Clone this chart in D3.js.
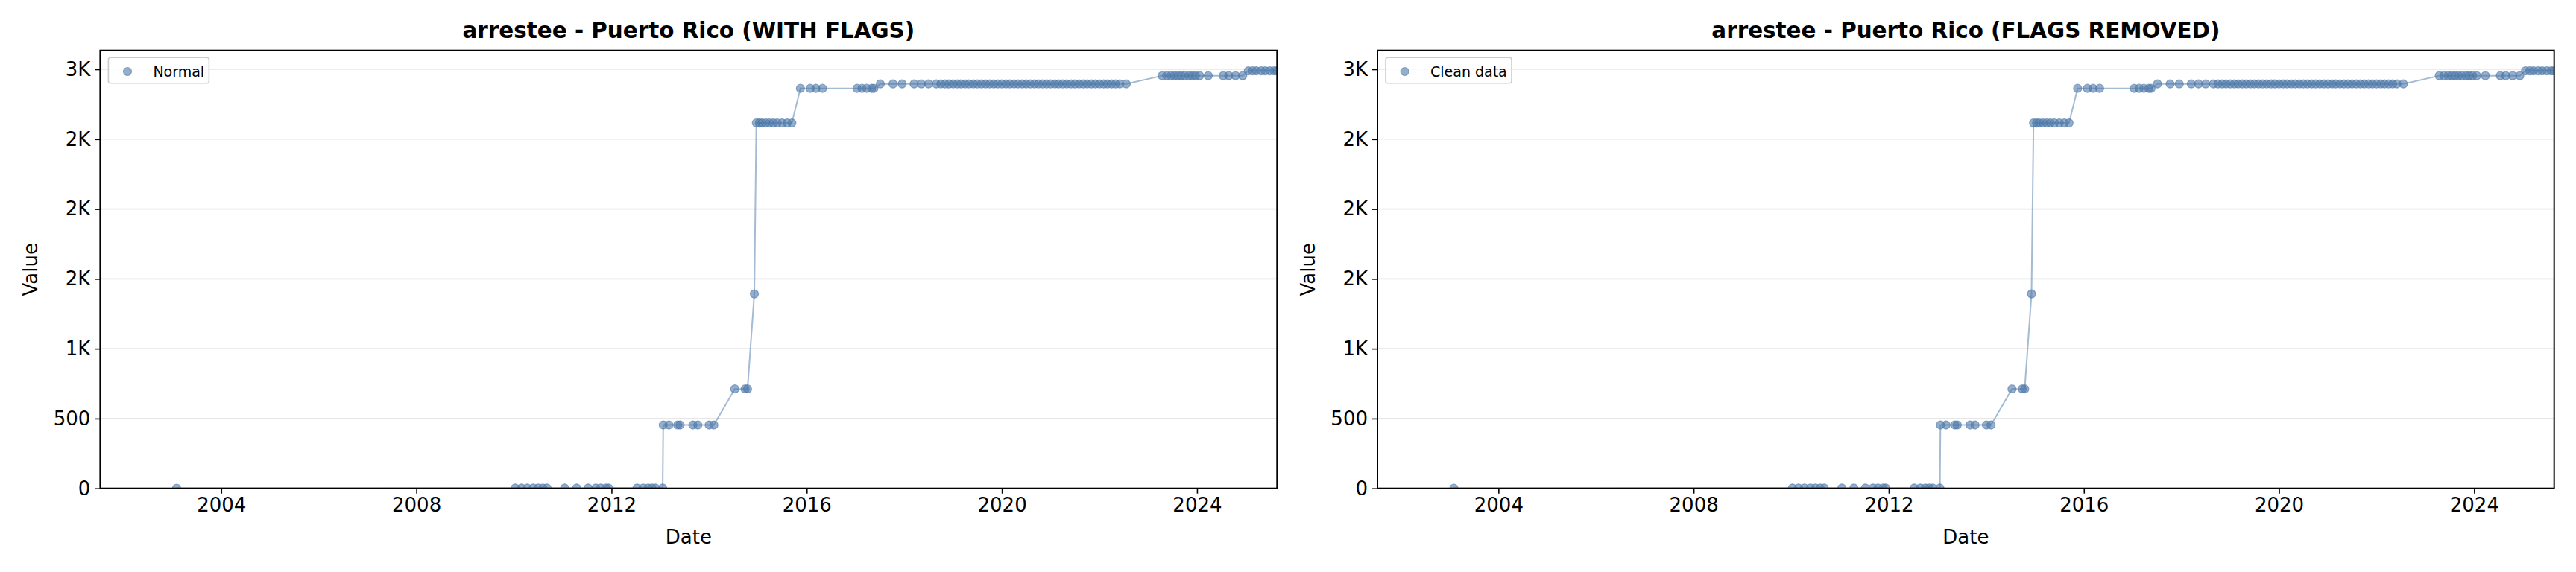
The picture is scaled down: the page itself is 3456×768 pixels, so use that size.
<!DOCTYPE html>
<html>
<head>
<meta charset="utf-8">
<script src="https://cdn.jsdelivr.net/npm/d3@7"></script>
<style>
  html, body { margin: 0; padding: 0; background: #fff; }
  svg { display: block; }
  text { font-family: "DejaVu Sans", sans-serif; fill: #000; }
</style>
</head>
<body>
<svg id="chart" width="3456" height="768"></svg>
<script>
// ---------------- data ----------------
const dates = [
  "2003-02-01",
  "2010-01-10","2010-02-25","2010-04-10","2010-05-25","2010-07-01","2010-08-05","2010-09-05",
  "2011-01-15","2011-04-15",
  "2011-07-10","2011-09-05","2011-10-12","2011-11-20","2011-12-10",
  "2012-07-10","2012-08-25","2012-10-01","2012-10-30","2012-11-25","2013-01-18",
  "2013-01-22","2013-03-05","2013-05-10","2013-05-28","2013-09-01","2013-10-08","2014-01-01","2014-02-05",
  "2014-07-12","2014-09-27","2014-10-15",
  "2014-12-05",
  "2014-12-20","2015-01-12","2015-02-01","2015-03-01","2015-03-28","2015-04-25","2015-05-25","2015-07-01","2015-08-08","2015-09-12",
  "2015-11-15","2016-01-27","2016-03-10","2016-04-28",
  "2017-01-12","2017-02-18","2017-03-25","2017-05-01","2017-05-18",
  "2017-07-05","2017-10-08","2017-12-15","2018-03-15","2018-05-08","2018-07-01","2018-08-28",
  "2018-10-01","2018-11-01","2018-12-01","2019-01-01","2019-02-01","2019-03-01","2019-04-01","2019-05-01",
  "2019-06-01","2019-07-01","2019-08-01","2019-09-01","2019-10-01","2019-11-01","2019-12-01",
  "2020-01-01","2020-02-01","2020-03-01","2020-04-01","2020-05-01","2020-06-01","2020-07-01","2020-08-01",
  "2020-09-01","2020-10-01","2020-11-01","2020-12-01","2021-01-01","2021-02-01","2021-03-01","2021-04-01",
  "2021-05-01","2021-06-01","2021-07-01","2021-08-01","2021-09-01","2021-10-01","2021-11-01","2021-12-01",
  "2022-01-01","2022-02-01","2022-03-01","2022-04-01","2022-05-01","2022-06-01","2022-07-20",
  "2023-04-15","2023-05-20","2023-06-20","2023-07-15","2023-08-10","2023-09-05","2023-10-01","2023-11-01",
  "2023-11-25","2023-12-20","2024-01-20","2024-03-25",
  "2024-07-15","2024-08-25","2024-10-15","2024-12-08",
  "2025-01-19","2025-02-20","2025-03-20","2025-04-25","2025-05-25","2025-06-28","2025-07-30","2025-08-22"
];
const values = [
  1,
  2,2,2,2,2,2,2,
  2,2,
  2,2,2,2,2,
  2,2,2,2,2,2,
  454,454,454,454,454,454,454,454,
  712,712,712,
  1392,
  2616,2616,2616,2616,2616,2616,2616,2616,2616,2616,
  2863,2863,2863,2863,
  2863,2863,2863,2863,2863,
  2895,2895,2895,2895,2895,2895,2895,
  2895,2895,2895,2895,2895,2895,2895,2895,
  2895,2895,2895,2895,2895,2895,2895,
  2895,2895,2895,2895,2895,2895,2895,2895,
  2895,2895,2895,2895,2895,2895,2895,2895,
  2895,2895,2895,2895,2895,2895,2895,2895,
  2895,2895,2895,2895,2895,2895,2895,
  2954,2954,2954,2954,2954,2954,2954,2954,
  2954,2954,2954,2954,
  2954,2954,2954,2954,
  2989,2989,2989,2989,2989,2989,2989,2989
];
const panelTitles = ["arrestee - Puerto Rico (WITH FLAGS)", "arrestee - Puerto Rico (FLAGS REMOVED)"];
const legendLabels = ["Normal", "Clean data"];
const yTickValues = [0, 500, 1000, 1500, 2000, 2500, 3000];
const yTickLabels = ["0", "500", "1K", "2K", "2K", "2K", "3K"];
const xTickYears = [2004, 2008, 2012, 2016, 2020, 2024];
const xDomain = ["2001-07-09", "2025-08-22"];
const yDomain = [0, 3135];
const xLabel = "Date";
const yLabel = "Value";

// ---------------- drawing ----------------
const parse = d3.timeParse("%Y-%m-%d");
const data = dates.map((d, i) => ({ date: parse(d), value: values[i] }));

const svg = d3.select("#chart");
const color = "#4c78a8";
const panels = [
  { left: 134.4, right: 1713.3 },
  { left: 1848.0, right: 3426.7 }
];
const plotTop = 67.7, plotBottom = 655.7;

panels.forEach((p, pi) => {
  const x = d3.scaleTime().domain(xDomain.map(parse)).range([p.left, p.right]);
  const y = d3.scaleLinear().domain(yDomain).range([plotBottom, plotTop]);
  const g = svg.append("g");

  const clipId = "clip" + pi;
  svg.append("clipPath").attr("id", clipId)
    .append("rect").attr("x", p.left).attr("y", plotTop)
    .attr("width", p.right - p.left).attr("height", plotBottom - plotTop);

  // grid
  g.append("g").selectAll("line").data(yTickValues).join("line")
    .attr("x1", p.left).attr("x2", p.right)
    .attr("y1", d => y(d)).attr("y2", d => y(d))
    .attr("stroke", "#e6e6e6").attr("stroke-width", 1.6);

  const plot = g.append("g").attr("clip-path", `url(#${clipId})`);
  const line = d3.line().x(d => x(d.date)).y(d => y(d.value));
  plot.append("path").datum(data).attr("d", line)
    .attr("fill", "none").attr("stroke", color)
    .attr("stroke-opacity", 0.5).attr("stroke-width", 2);
  plot.append("g").selectAll("circle").data(data).join("circle")
    .attr("cx", d => x(d.date)).attr("cy", d => y(d.value)).attr("r", 5.5)
    .attr("fill", color).attr("fill-opacity", 0.6)
    .attr("stroke", color).attr("stroke-opacity", 0.6).attr("stroke-width", 1.2);

  // axes
  const xAxis = d3.axisBottom(x)
    .tickValues(xTickYears.map(yr => new Date(yr, 0, 1)))
    .tickFormat(d3.timeFormat("%Y")).tickSize(7).tickPadding(6);
  const gx = g.append("g").attr("transform", `translate(0,${plotBottom})`).call(xAxis);
  gx.select(".domain").remove();
  gx.selectAll("line").attr("stroke", "#000").attr("stroke-width", 1.6);
  gx.selectAll("text").attr("font-size", 26).attr("font-family", "DejaVu Sans").attr("fill", "#000");

  const yAxis = d3.axisLeft(y).tickValues(yTickValues)
    .tickFormat((d, i) => yTickLabels[i]).tickSize(7).tickPadding(6);
  const gy = g.append("g").attr("transform", `translate(${p.left},0)`).call(yAxis);
  gy.select(".domain").remove();
  gy.selectAll("line").attr("stroke", "#000").attr("stroke-width", 1.6);
  gy.selectAll("text").attr("font-size", 26).attr("font-family", "DejaVu Sans").attr("fill", "#000");

  // frame
  g.append("rect").attr("x", p.left).attr("y", plotTop)
    .attr("width", p.right - p.left).attr("height", plotBottom - plotTop)
    .attr("fill", "none").attr("stroke", "#000").attr("stroke-width", 2);

  // title
  g.append("text").attr("x", (p.left + p.right) / 2).attr("y", 50.7)
    .attr("text-anchor", "middle").attr("font-size", 29.4).attr("font-weight", "bold")
    .text(panelTitles[pi]);

  // axis labels
  g.append("text").attr("x", (p.left + p.right) / 2).attr("y", 730)
    .attr("text-anchor", "middle").attr("font-size", 26).text(xLabel);
  g.append("text")
    .attr("transform", `translate(${p.left - 84},${(plotTop + plotBottom) / 2}) rotate(-90)`)
    .attr("text-anchor", "middle").attr("font-size", 26).text(yLabel);

  // legend
  const lg = g.append("g");
  const lx = p.left + 11, ly = plotTop + 9.6;
  const textW = pi === 0 ? 65 : 99;
  lg.append("rect").attr("x", lx).attr("y", ly).attr("width", 60 + textW + 10).attr("height", 34.4)
    .attr("rx", 3).attr("fill", "#fff").attr("fill-opacity", 0.8)
    .attr("stroke", "#cccccc").attr("stroke-width", 1.6);
  lg.append("circle").attr("cx", lx + 25.6).attr("cy", ly + 18.7).attr("r", 5.5)
    .attr("fill", color).attr("fill-opacity", 0.6)
    .attr("stroke", color).attr("stroke-opacity", 0.6).attr("stroke-width", 1.2);
  lg.append("text").attr("x", lx + 60).attr("y", ly + 25.3)
    .attr("font-size", 19).text(legendLabels[pi]);
});
</script>
</body>
</html>
